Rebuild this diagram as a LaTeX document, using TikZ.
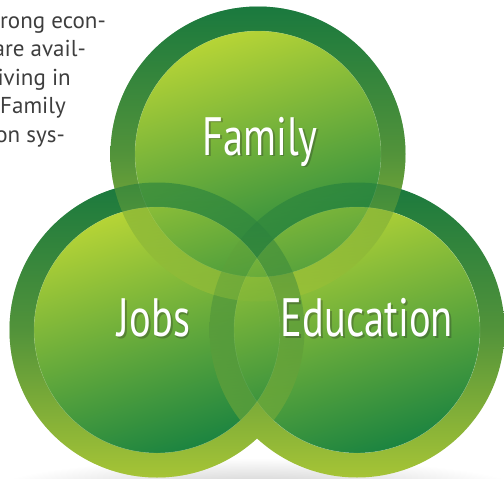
\documentclass[tikz,border=0pt]{standalone}
\usepackage{fontspec}
\setmainfont{PT Sans}
\newfontfamily\narrowfont[FakeStretch=0.75]{PT Sans}
\usetikzlibrary{calc}

\definecolor{ringtop}{RGB}{26,121,62}
\definecolor{ringmid}{RGB}{82,147,58}
\definecolor{ringbot}{RGB}{166,196,54}
\definecolor{disklight}{RGB}{182,212,54}
\definecolor{diskdark}{RGB}{28,132,64}
\definecolor{bodytext}{RGB}{62,62,62}

% one circle: shaded ring plus shaded inner disk, #1 = opacity
\def\greencircle[#1](#2){%
	\shade[top color=ringtop, bottom color=ringbot, middle color=ringmid, even odd rule, fill opacity=#1] (#2) circle (147.5) (#2) circle (123);
	\shade[top color=disklight, bottom color=diskdark, shading angle=18, fill opacity=#1] (#2) circle (123);
	\draw[white, line width=0.4pt, opacity=0.25*#1] (#2) circle (123);
}

\tikzset{
	bodyline/.style={anchor=base east, inner sep=0pt, text=bodytext, font=\fontsize{23}{28}\selectfont},
	circlelabel/.style={anchor=base, inner sep=0pt, text=white, font=\narrowfont\fontsize{54}{60}\selectfont},
	labelshadow/.style={circlelabel, text=black!85, opacity=0.3}
}

\begin{document}
\begin{tikzpicture}[x=1pt, y=-1pt]
		%%%%% START %%%%%
		\useasboundingbox (0, 0) rectangle (504, 479);
		\clip (0, 0) rectangle (504, 479);
		
		% running text, cut off at the left
		\node[bodyline] (line1) at (106, 28) {rong econ-};
		\node[bodyline] (line2) at (86, 56.5) {are avail-};
		\node[bodyline] (line3) at (71, 85) {iving in};
		\node[bodyline] (line4) at (66, 113.5) {Family};
		\node[bodyline] (line5) at (65, 142) {on sys-};
		
		% soft shadow on the ground
		\shade[inner color=black!22, outer color=white] (257, 492) ellipse (270 and 34);
		
		\coordinate (jobs) at (157, 330);
		\coordinate (family) at (258, 154);
		\coordinate (education) at (357, 330);
		
		% opaque pass
		\greencircle[1](jobs);
		\greencircle[1](family);
		\greencircle[1](education);
		
		% see-through pass, so the overlaps mix
		\greencircle[0.5](family);
		\greencircle[0.5](jobs);
		
		% labels with a little drop shadow
		\node[labelshadow] (familyshadow) at (261.8, 156.8) {Family};
		\node[labelshadow] (jobsshadow) at (155.8, 338.5) {Jobs};
		\node[labelshadow] (educationshadow) at (368.8, 338.5) {Education};
		
		\node[circlelabel] (familylabel) at (260, 155) {Family};
		\node[circlelabel] (jobslabel) at (154, 336.7) {Jobs};
		\node[circlelabel] (educationlabel) at (367, 336.7) {Education};
		%%%%% END %%%%%
	\end{tikzpicture}
\end{document}
